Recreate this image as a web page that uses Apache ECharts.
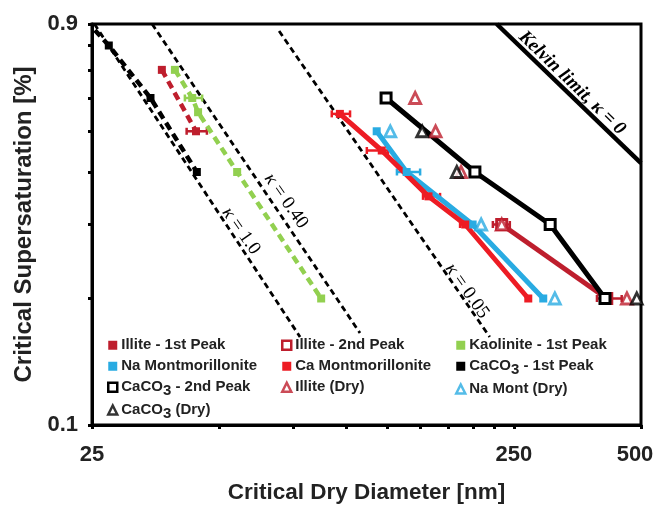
<!DOCTYPE html>
<html><head><meta charset="utf-8">
<script src="https://cdn.jsdelivr.net/npm/echarts@6/dist/echarts.min.js"></script>
<style>html,body{margin:0;padding:0;background:#fff}#c{width:656px;height:505px}</style>
</head><body><div id="c"></div>
<script>
// ---- axis ticks / labels ----
const xTicks = [25, 50, 75, 100, 125, 150, 175, 200, 225, 250, 500];
const xLabels = [25, 250, 500];
const yTicks = [0.1, 0.2, 0.3, 0.4, 0.5, 0.6, 0.7, 0.8, 0.9];
const yLabels = [0.1, 0.9];

// ---- theory lines [diameter nm, supersaturation %] ----
const kappa10 = [[25.33, 0.9], [77.8, 0.162]];
const kappa040 = [[34.7, 0.9], [107.9, 0.1655]];
const kappa005 = [[69.4, 0.866], [219, 0.162]];
const kelvin = [[227.5, 0.9], [500, 0.42]];

// ---- measured series ----
const illite1st = [[36.6, 0.70], [44.1, 0.50]];
const kaolinite1st = [[39.3, 0.70], [43.2, 0.60], [44.6, 0.555], [55.2, 0.40], [87.3, 0.20]];
const caco3First = [[25.4, 0.87], [27.4, 0.80], [34.4, 0.60], [44.3, 0.40]];
const illite2nd = [[233.8, 0.30], [414.8, 0.20]];
const naMont = [[118.2, 0.50], [139.2, 0.40], [199.5, 0.30], [293.3, 0.20]];
const caMont = [[96.7, 0.55], [121.5, 0.45], [156.8, 0.35], [191.6, 0.30], [270.3, 0.20]];
const caco3Second = [[124.4, 0.60], [202, 0.40], [304.6, 0.30], [410.8, 0.20]];
const illiteDry = [[145.8, 0.60], [163, 0.50], [187.3, 0.40], [233.8, 0.30], [463, 0.20]];
const naMontDry = [[127.3, 0.50], [209, 0.30], [312.5, 0.20]];
const caco3Dry = [[151.5, 0.50], [183, 0.40], [488.5, 0.20]];

// ---- horizontal error bars [low, high, supersaturation] ----
const illite1stErr = [[41.9, 46.8, 0.50]];
const kaolinite1stErr = [[41.5, 45.6, 0.60]];
const caMontErr = [[92.5, 102.2, 0.55], [112, 125.7, 0.45], [152.2, 167, 0.35], [186.3, 198.8, 0.30]];
const naMontErr = [[132, 149.8, 0.40]];
const illite2ndErr = [[222.8, 244.4, 0.30], [393.2, 450, 0.20]];

const C_ILL = '#BE1E2D', C_CA = '#ED1C24', C_NA = '#29ABE2', C_KAO = '#92D050', C_BLK = '#000000';
const SANS = "'Liberation Sans', Arial, sans-serif";
const SERIF = "'Liberation Serif', 'Times New Roman', serif";

const chart = echarts.init(document.getElementById('c'));

function theory(data, dashed) {
  return {type: 'line', data: data, symbol: 'none', silent: true, z: 1,
    lineStyle: {color: '#000', width: dashed ? 2.8 : 4.5, type: dashed ? [6, 4] : 'solid'}};
}
function lineSeries(name, data, color, dashed, open) {
  return {name: name, type: 'line', data: data, symbol: 'rect', symbolSize: open ? 10 : 8, z: 3,
    itemStyle: open ? {color: '#fff', borderColor: color, borderWidth: 3} : {color: color},
    lineStyle: {color: color, width: dashed ? 4.5 : 5, type: dashed ? [8, 5] : 'solid'}};
}
function dry(name, data, color) {
  return {name: name, type: 'scatter', data: data, symbol: 'triangle', symbolSize: 11, z: 4,
    itemStyle: {color: '#fff', borderColor: color, borderWidth: 2.8}};
}
function err(data, color) {
  return {type: 'custom', data: data, silent: true, z: 2, encode: {x: [0, 1], y: 2},
    renderItem: function (params, api) {
      const a = api.coord([api.value(0), api.value(2)]);
      const b = api.coord([api.value(1), api.value(2)]);
      const st = {stroke: color, lineWidth: 2.5};
      return {type: 'group', children: [
        {type: 'line', shape: {x1: a[0], y1: a[1], x2: b[0], y2: b[1]}, style: st},
        {type: 'line', shape: {x1: a[0], y1: a[1] - 3.5, x2: a[0], y2: a[1] + 3.5}, style: st},
        {type: 'line', shape: {x1: b[0], y1: b[1] - 3.5, x2: b[0], y2: b[1] + 3.5}, style: st}
      ]};
    }};
}

caco3First[0] = {value: caco3First[0], symbol: 'none'};

function legendBox(left, items) {
  return {orient: 'vertical', left: left, top: 336, itemWidth: 9, itemHeight: 9, itemGap: 2.5,
    padding: 0, selectedMode: false,
    data: items,
    formatter: function (n) { return n.replace('CaCO3', 'CaCO{sub|3}'); },
    textStyle: {fontFamily: SANS, fontWeight: 'bold', fontSize: 15, color: '#222', lineHeight: 18.5, padding: [0, 0, 0, -1],
      rich: {sub: {fontFamily: SANS, fontWeight: 'bold', fontSize: 15, color: '#222', padding: [7, 0, 0, 0]}}}};
}
const open = (n, c) => ({name: n, icon: 'rect', itemStyle: {color: '#fff', borderColor: c, borderWidth: 2.5}});
const fill = (n, c) => ({name: n, icon: 'rect', itemStyle: {color: c, borderWidth: 0}});
const tri = (n, c) => ({name: n, icon: 'triangle', itemStyle: {color: '#fff', borderColor: c, borderWidth: 2.5}});

const axisFont = {fontFamily: SANS, fontWeight: 'bold', fontSize: 22, color: '#222'};
const rich = (t) => '{i|κ} = ' + t;
const kStyle = {fontFamily: SERIF, fontSize: 19, fill: '#000', align: 'center', verticalAlign: 'middle',
  rich: {i: {fontStyle: 'italic', fontFamily: SERIF, fontSize: 19}}};

chart.setOption({
  animation: false,
  grid: {left: 92, right: 15, top: 24, bottom: 80, show: true, borderColor: '#000', borderWidth: 3,
    containLabel: false, outerBoundsMode: 'none'},
  xAxis: {type: 'log', logBase: 10, min: 25, max: 500,
    name: 'Critical Dry Diameter [nm]', nameLocation: 'middle', nameGap: 56,
    nameTextStyle: {fontFamily: SANS, fontWeight: 'bold', fontSize: 22.5, color: '#222'},
    axisLine: {show: true, onZero: false, lineStyle: {color: '#000', width: 3}},
    axisTick: {show: true, customValues: xTicks, length: 4, lineStyle: {color: '#000', width: 3}},
    minorTick: {show: false}, splitLine: {show: false},
    axisLabel: Object.assign({customValues: xLabels, margin: 19, showMinLabel: true, showMaxLabel: true,
      formatter: v => (Math.round(v) === xLabels[xLabels.length - 1] ? '{r|' + Math.round(v) + '}' : String(Math.round(v))),
      rich: {r: Object.assign({padding: [0, 12, 0, 0]}, axisFont)}}, axisFont)},
  yAxis: {type: 'log', logBase: 10, min: 0.1, max: 0.9,
    name: 'Critical Supersaturation [%]', nameLocation: 'middle', nameGap: 45,
    nameTextStyle: {fontFamily: SANS, fontWeight: 'bold', fontSize: 24, color: '#222'},
    axisLine: {show: true, onZero: false, lineStyle: {color: '#000', width: 3}},
    axisTick: {show: true, customValues: yTicks, length: 4, lineStyle: {color: '#000', width: 3}},
    minorTick: {show: false}, splitLine: {show: false},
    axisLabel: Object.assign({customValues: yLabels, margin: 14, showMinLabel: true, showMaxLabel: true,
      formatter: v => (Math.round(v * 10) / 10).toFixed(1)}, axisFont)},
  legend: [
    legendBox(107, [fill('Illite - 1st Peak', C_ILL), fill('Na Montmorillonite', C_NA), open('CaCO3 - 2nd Peak', C_BLK), tri('CaCO3 (Dry)', C_BLK)]),
    legendBox(281, [open('Illite - 2nd Peak', C_ILL), fill('Ca Montmorillonite', C_CA), tri('Illite (Dry)', C_ILL)]),
    legendBox(455, [fill('Kaolinite - 1st Peak', C_KAO), fill('CaCO3 - 1st Peak', C_BLK), tri('Na Mont (Dry)', C_NA)])
  ],
  series: [
    theory(kappa10, true), theory(kappa040, true), theory(kappa005, true), theory(kelvin, false),
    err(illite1stErr, C_ILL), err(kaolinite1stErr, C_KAO), err(caMontErr, C_CA), err(naMontErr, C_NA), err(illite2ndErr, C_ILL),
    lineSeries('Illite - 1st Peak', illite1st, C_ILL, true, false),
    lineSeries('Kaolinite - 1st Peak', kaolinite1st, C_KAO, true, false),
    lineSeries('CaCO3 - 1st Peak', caco3First, C_BLK, true, false),
    lineSeries('Na Montmorillonite', naMont, C_NA, false, false),
    lineSeries('Ca Montmorillonite', caMont, C_CA, false, false),
    lineSeries('Illite - 2nd Peak', illite2nd, C_ILL, false, true),
    lineSeries('CaCO3 - 2nd Peak', caco3Second, C_BLK, false, true),
    dry('Illite (Dry)', illiteDry, C_ILL),
    dry('Na Mont (Dry)', naMontDry, C_NA),
    dry('CaCO3 (Dry)', caco3Dry, C_BLK)
  ],
  graphic: [
    {type: 'text', x: 241, y: 231, rotation: -55 * Math.PI / 180, z: 10, style: Object.assign({text: rich('1.0')}, kStyle)},
    {type: 'text', x: 286, y: 201, rotation: -55 * Math.PI / 180, z: 10, style: Object.assign({text: rich('0.40')}, kStyle)},
    {type: 'text', x: 467, y: 291, rotation: -55 * Math.PI / 180, z: 10, style: Object.assign({text: rich('0.05')}, kStyle)},
    {type: 'text', x: 572, y: 83, rotation: -44 * Math.PI / 180, z: 10,
      style: {text: 'Kelvin limit, κ = 0', fontFamily: SERIF, fontStyle: 'italic', fontWeight: 'bold', fontSize: 19, fill: '#000', align: 'center', verticalAlign: 'middle'}}
  ]
});
</script>
</body></html>
